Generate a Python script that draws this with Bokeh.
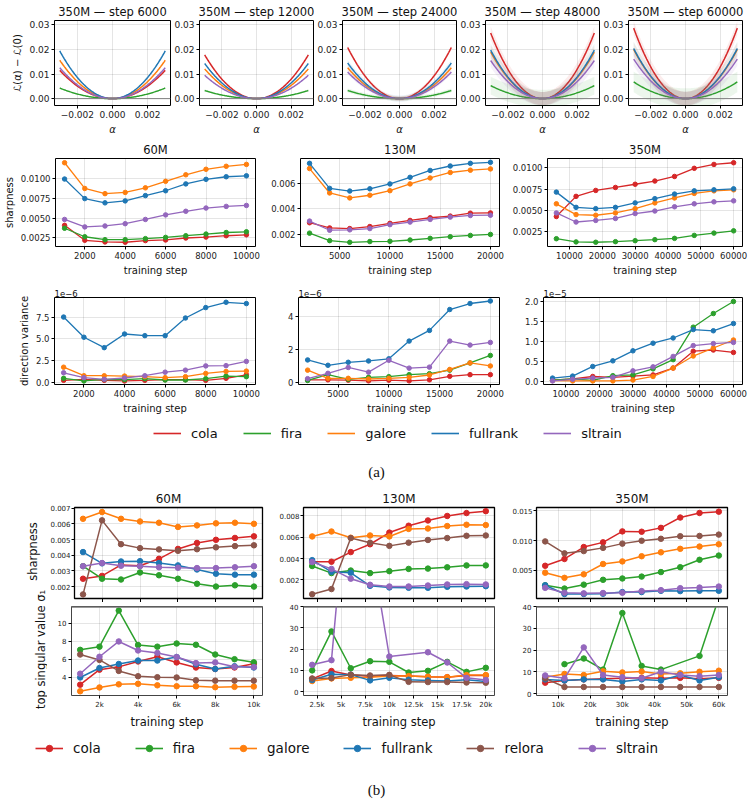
import numpy as np
from bokeh.plotting import figure
from bokeh.layouts import column, row
from bokeh.models import (Range1d, FixedTicker, CustomJSTickFormatter, PrintfTickFormatter,
                          Legend, LegendItem, Label, Span)
from bokeh.embed import file_html
from bokeh.resources import INLINE

SANS = "DejaVu Sans"
SERIF = "Liberation Serif"

COLORS = {
    "cola": "#d62728", "fira": "#2ca02c", "galore": "#ff7f0e",
    "fullrank": "#1f77b4", "relora": "#8c564b", "sltrain": "#9467bd",
}
methods_a = ["cola", "fira", "galore", "fullrank", "sltrain"]
methods_b = ["cola", "fira", "galore", "fullrank", "relora", "sltrain"]

# ---------------- (a) loss landscape slices, 350M ----------------
probe_steps = [6000, 12000, 24000, 48000, 60000]
alpha_edge = 0.003          # probe radius along the direction
# L(±alpha_edge) - L(0) for each method at each probe step
edge_cola = [0.0115, 0.0178, 0.0208, 0.0267, 0.0287]
edge_fira = [0.0043, 0.0033, 0.0033, 0.0053, 0.0068]
edge_galore = [0.0156, 0.0121, 0.0126, 0.0189, 0.0200]
edge_fullrank = [0.0194, 0.0143, 0.0145, 0.0197, 0.0204]
edge_sltrain = [0.0126, 0.0095, 0.0108, 0.0155, 0.0161]
# half-width of the spread band around each curve
band_cola = [0.0003, 0.0003, 0.0008, 0.0027, 0.0028]
band_fira = [0.0003, 0.0003, 0.0008, 0.0036, 0.0042]
band_galore = [0.0003, 0.0003, 0.0010, 0.0027, 0.0028]
band_fullrank = [0.0003, 0.0003, 0.0013, 0.0027, 0.0028]
band_sltrain = [0.0003, 0.0003, 0.0009, 0.0027, 0.0028]

# ---------------- (a) sharpness ----------------
steps_60m = [1000, 2000, 3000, 4000, 5000, 6000, 7000, 8000, 9000, 10000]
steps_130m = [2000, 4000, 6000, 8000, 10000, 12000, 14000, 16000, 18000, 20000]
steps_350m = [6000, 12000, 18000, 24000, 30000, 36000, 42000, 48000, 54000, 60000]

sharp_a_60m_cola = [0.00407, 0.00217, 0.00196, 0.00192, 0.00213, 0.00221, 0.00246, 0.00258, 0.00275, 0.00287]
sharp_a_60m_fira = [0.00370, 0.00262, 0.00225, 0.00225, 0.00238, 0.00254, 0.00275, 0.00296, 0.00316, 0.00325]
sharp_a_60m_galore = [0.01203, 0.00876, 0.00810, 0.00826, 0.00884, 0.00967, 0.01050, 0.01120, 0.01158, 0.01182]
sharp_a_60m_fullrank = [0.00996, 0.00747, 0.00693, 0.00718, 0.00785, 0.00847, 0.00934, 0.00992, 0.01025, 0.01037]
sharp_a_60m_sltrain = [0.00482, 0.00387, 0.00399, 0.00428, 0.00482, 0.00540, 0.00586, 0.00627, 0.00648, 0.00660]

sharp_a_130m_cola = [0.00292, 0.00251, 0.00246, 0.00262, 0.00287, 0.00310, 0.00331, 0.00344, 0.00367, 0.00369]
sharp_a_130m_fira = [0.00210, 0.00151, 0.00138, 0.00144, 0.00146, 0.00156, 0.00169, 0.00182, 0.00192, 0.00200]
sharp_a_130m_galore = [0.00718, 0.00526, 0.00487, 0.00508, 0.00544, 0.00597, 0.00644, 0.00687, 0.00705, 0.00715]
sharp_a_130m_fullrank = [0.00759, 0.00562, 0.00541, 0.00559, 0.00597, 0.00649, 0.00703, 0.00738, 0.00759, 0.00767]
sharp_a_130m_sltrain = [0.00305, 0.00233, 0.00236, 0.00246, 0.00277, 0.00297, 0.00318, 0.00336, 0.00349, 0.00351]

sharp_a_350m_cola = [0.00427, 0.00665, 0.00735, 0.00770, 0.00808, 0.00846, 0.00900, 0.00996, 0.01042, 0.01062]
sharp_a_350m_fira = [0.00165, 0.00127, 0.00123, 0.00130, 0.00142, 0.00154, 0.00169, 0.00204, 0.00231, 0.00258]
sharp_a_350m_galore = [0.00577, 0.00450, 0.00442, 0.00469, 0.00520, 0.00588, 0.00646, 0.00700, 0.00730, 0.00742]
sharp_a_350m_fullrank = [0.00715, 0.00535, 0.00520, 0.00535, 0.00588, 0.00638, 0.00692, 0.00730, 0.00742, 0.00754]
sharp_a_350m_sltrain = [0.00469, 0.00362, 0.00381, 0.00404, 0.00462, 0.00492, 0.00542, 0.00577, 0.00600, 0.00612]

# ---------------- (a) direction variance ----------------
# 60M and 130M in units of 1e-6, 350M in units of 1e-5
dvar_60m_cola = [0.22, 0.34, 0.22, 0.15, 0.22, 0.30, 0.30, 0.22, 0.45, 0.86]
dvar_60m_fira = [0.45, 0.15, 0.34, 0.30, 0.41, 0.26, 0.26, 0.41, 0.71, 0.64]
dvar_60m_galore = [1.73, 0.75, 0.75, 0.71, 0.64, 0.53, 0.64, 1.01, 1.24, 1.28]
dvar_60m_fullrank = [7.50, 5.18, 3.98, 5.55, 5.36, 5.36, 7.39, 8.59, 9.20, 9.05]
dvar_60m_sltrain = [1.09, 0.53, 0.34, 0.49, 0.75, 1.16, 1.39, 1.88, 1.91, 2.40]

dvar_130m_cola = [0.18, 0.18, 0.16, 0.12, 0.16, 0.12, 0.18, 0.39, 0.49, 0.49]
dvar_130m_fira = [0.14, 0.49, 0.21, 0.33, 0.37, 0.49, 0.55, 0.76, 1.19, 1.64]
dvar_130m_galore = [0.76, 0.27, 0.27, 0.23, 0.27, 0.33, 0.47, 0.80, 1.19, 1.01]
dvar_130m_fullrank = [1.37, 1.05, 1.23, 1.31, 1.44, 2.50, 3.14, 4.39, 4.75, 4.90]
dvar_130m_sltrain = [0.25, 0.57, 0.92, 0.64, 1.35, 0.88, 0.94, 2.50, 2.26, 2.42]

dvar_350m_cola = [0.04, 0.07, 0.13, 0.11, 0.14, 0.17, 0.34, 0.76, 0.79, 0.73]
dvar_350m_fira = [0.04, 0.07, 0.03, 0.15, 0.17, 0.32, 0.55, 1.36, 1.70, 2.00]
dvar_350m_galore = [0.03, 0.02, 0.02, 0.02, 0.04, 0.13, 0.34, 0.64, 0.84, 1.04]
dvar_350m_fullrank = [0.09, 0.14, 0.38, 0.52, 0.77, 0.96, 1.09, 1.30, 1.27, 1.45]
dvar_350m_sltrain = [0.02, 0.06, 0.09, 0.11, 0.27, 0.37, 0.63, 0.90, 0.95, 0.98]

# ---------------- (b) sharpness ----------------
sharp_b_60m_cola = [0.00250, 0.00268, 0.00338, 0.00333, 0.00377, 0.00440, 0.00478, 0.00498, 0.00510, 0.00520]
sharp_b_60m_fira = [0.00330, 0.00250, 0.00245, 0.00290, 0.00272, 0.00250, 0.00218, 0.00200, 0.00208, 0.00200]
sharp_b_60m_galore = [0.00632, 0.00675, 0.00632, 0.00615, 0.00607, 0.00580, 0.00590, 0.00603, 0.00607, 0.00600]
sharp_b_60m_fullrank = [0.00420, 0.00348, 0.00360, 0.00362, 0.00350, 0.00335, 0.00309, 0.00282, 0.00276, 0.00276]
sharp_b_60m_relora = [0.00150, 0.00622, 0.00470, 0.00445, 0.00437, 0.00428, 0.00438, 0.00450, 0.00458, 0.00463]
sharp_b_60m_sltrain = [0.00330, 0.00350, 0.00333, 0.00330, 0.00323, 0.00320, 0.00318, 0.00318, 0.00323, 0.00330]

sharp_b_130m_cola = [0.00370, 0.00370, 0.00460, 0.00533, 0.00642, 0.00706, 0.00755, 0.00797, 0.00824, 0.00842]
sharp_b_130m_fira = [0.00330, 0.00264, 0.00288, 0.00264, 0.00282, 0.00303, 0.00306, 0.00318, 0.00336, 0.00336]
sharp_b_130m_galore = [0.00606, 0.00652, 0.00594, 0.00615, 0.00606, 0.00676, 0.00680, 0.00703, 0.00715, 0.00712]
sharp_b_130m_fullrank = [0.00385, 0.00276, 0.00267, 0.00145, 0.00130, 0.00127, 0.00127, 0.00136, 0.00139, 0.00142]
sharp_b_130m_relora = [0.00067, 0.00115, 0.00591, 0.00548, 0.00518, 0.00548, 0.00573, 0.00591, 0.00612, 0.00615]
sharp_b_130m_sltrain = [0.00367, 0.00303, 0.00212, 0.00155, 0.00139, 0.00139, 0.00148, 0.00158, 0.00161, 0.00158]

sharp_b_350m_cola = [0.00578, 0.00692, 0.00892, 0.00970, 0.01154, 0.01148, 0.01213, 0.01386, 0.01462, 0.01484]
sharp_b_350m_fira = [0.00251, 0.00197, 0.00262, 0.00343, 0.00365, 0.00397, 0.00473, 0.00554, 0.00678, 0.00749]
sharp_b_350m_galore = [0.00462, 0.00376, 0.00435, 0.00608, 0.00651, 0.00738, 0.00803, 0.00862, 0.00900, 0.00938]
sharp_b_350m_fullrank = [0.00251, 0.00105, 0.00105, 0.00110, 0.00138, 0.00138, 0.00159, 0.00154, 0.00159, 0.00159]
sharp_b_350m_relora = [0.00986, 0.00786, 0.00824, 0.00878, 0.00949, 0.00997, 0.01030, 0.01073, 0.01078, 0.01100]
sharp_b_350m_sltrain = [0.00208, 0.00127, 0.00116, 0.00122, 0.00127, 0.00154, 0.00170, 0.00203, 0.00213, 0.00230]

# ---------------- (b) top singular value ----------------
sigma_60m_cola = [3.20, 4.87, 5.18, 5.78, 6.30, 5.67, 5.11, 4.94, 5.11, 5.53]
sigma_60m_fira = [7.07, 7.42, 11.43, 7.60, 7.42, 7.77, 7.63, 6.55, 6.03, 5.68]
sigma_60m_galore = [2.47, 2.89, 3.24, 3.30, 3.13, 3.03, 3.03, 2.92, 2.96, 2.99]
sigma_60m_fullrank = [4.00, 5.05, 5.50, 5.88, 5.88, 6.27, 5.46, 4.94, 5.25, 5.11]
sigma_60m_relora = [6.55, 5.95, 4.73, 4.14, 4.03, 4.00, 3.69, 3.65, 3.65, 3.65]
sigma_60m_sltrain = [4.42, 6.30, 8.00, 7.00, 6.72, 6.27, 5.60, 5.67, 5.18, 5.15]

sigma_130m_cola = [6.0, 9.7, 7.8, 7.2, 7.6, 7.4, 7.0, 6.8, 7.6, 7.6]
sigma_130m_fira = [10.0, 28.3, 11.0, 14.3, 14.0, 9.0, 9.8, 14.0, 9.3, 11.2]
sigma_130m_galore = [5.0, 6.2, 6.5, 6.8, 7.3, 7.3, 7.0, 6.8, 7.8, 7.8]
sigma_130m_fullrank = [5.5, 8.2, 8.0, 5.3, 6.5, 5.6, 5.3, 5.0, 5.6, 4.8]
sigma_130m_relora = [6.2, 6.4, 8.0, 7.6, 7.9, 4.6, 4.5, 4.5, 4.3, 4.2]
sigma_130m_sltrain_steps = [2000, 4000, 6000, 8000, 10000, 14000, 16000, 18000, 20000]
sigma_130m_sltrain = [12.6, 14.8, 115.0, 71.0, 16.5, 18.5, 13.7, 6.5, 5.5]

sigma_350m_cola = [5.0, 6.0, 6.5, 6.8, 7.0, 7.2, 7.0, 7.2, 6.8, 7.2]
sigma_350m_fira_steps = [12000, 18000, 24000, 30000, 36000, 42000, 54000, 60000]
sigma_350m_fira = [13.5, 16.1, 11.0, 37.0, 12.7, 11.0, 17.3, 44.0]
sigma_350m_galore = [7.5, 9.0, 8.5, 10.2, 9.7, 10.1, 9.0, 9.3, 10.0, 10.5]
sigma_350m_fullrank = [6.5, 6.0, 6.5, 6.5, 5.5, 6.5, 6.0, 8.5, 6.0, 7.5]
sigma_350m_relora = [7.0, 3.0, 3.0, 3.0, 3.0, 3.0, 3.0, 3.0, 3.0, 3.0]
sigma_350m_sltrain = [8.3, 7.0, 21.2, 8.5, 7.5, 7.0, 10.0, 8.5, 8.0, 8.5]


def make_fig(w, h, xr, yr, left, right, top, bottom, tick_px, label_px,
             title=None, title_px="11.5px", title_align="center", title_standoff=3):
    p = figure(width=w, height=h, x_range=Range1d(*xr), y_range=Range1d(*yr),
               output_backend="svg", toolbar_location=None,
               min_border_left=left, min_border_right=right,
               min_border_top=top, min_border_bottom=bottom)
    p.outline_line_color = "black"
    p.outline_line_width = 1
    p.border_fill_color = "white"
    p.background_fill_color = "white"
    for ax in p.axis:
        ax.axis_line_color = None
        ax.major_tick_in = 0
        ax.major_tick_out = 3
        ax.major_tick_line_color = "black"
        ax.minor_tick_line_color = None
        ax.major_label_standoff = 2
        ax.major_label_text_font = SANS
        ax.major_label_text_font_size = tick_px
        ax.major_label_text_color = "#222222"
        ax.axis_label_text_font = SANS
        ax.axis_label_text_font_size = label_px
        ax.axis_label_text_font_style = "normal"
        ax.axis_label_text_color = "#111111"
        ax.axis_label_standoff = 3
    p.grid.grid_line_color = "black"
    p.grid.grid_line_alpha = 0.1
    if title is not None:
        p.title.text = title
        p.title.text_font = SANS
        p.title.text_font_size = title_px
        p.title.text_font_style = "normal"
        p.title.text_color = "#111111"
        p.title.align = title_align
        p.title.standoff = title_standoff
    return p


def add_series(p, x, y, color, lw, size):
    p.line(x, y, line_color=color, line_width=lw)
    p.scatter(x, y, marker="circle", size=size, fill_color=color, line_color=color)


# ================= row 1: loss slices =================
edge_loss = dict(zip(methods_a, [edge_cola, edge_fira, edge_galore, edge_fullrank, edge_sltrain]))
band_half = dict(zip(methods_a, [band_cola, band_fira, band_galore, band_fullrank, band_sltrain]))
alpha = np.linspace(-alpha_edge, alpha_edge, 121)
minus_fmt = CustomJSTickFormatter(code="return tick.toFixed(3).replace('-', '\u2212');")

row1 = []
r1_widths = [171, 143, 143, 143, 152]
r1_left = [54, 26, 26, 26, 26]
r1_right = [1, 1, 1, 1, 10]
for i, step in enumerate(probe_steps):
    p = make_fig(r1_widths[i], 137, (-0.0033, 0.0033), (-0.0028, 0.0318),
                 r1_left[i], r1_right[i], 20, 29, "9px", "10px",
                 title=f"350M \u2014 step {step}", title_px="11.5px", title_standoff=4)
    p.xaxis.ticker = FixedTicker(ticks=[-0.002, 0.0, 0.002])
    p.xaxis.formatter = minus_fmt
    p.yaxis.ticker = FixedTicker(ticks=[0.0, 0.01, 0.02, 0.03])
    p.yaxis.formatter = PrintfTickFormatter(format="%.2f")
    p.xaxis.axis_label = "\u03b1"
    p.xaxis.axis_label_text_font_style = "italic"
    if i == 0:
        p.yaxis.axis_label = "\u2112(\u03b1) \u2212 \u2112(0)"
    p.add_layout(Span(location=0, dimension="width", line_color="#808080", line_width=1))
    for m in methods_a:
        curve = edge_loss[m][i] * (alpha / alpha_edge) ** 2
        hw = band_half[m][i]
        p.varea(x=alpha, y1=curve - hw, y2=curve + hw, fill_color=COLORS[m], fill_alpha=0.09)
        p.line(alpha, curve, line_color=COLORS[m], line_width=1.5)
    row1.append(p)

# ================= rows 2-3: sharpness / direction variance =================
panels_a = [
    ("60M", steps_60m, (550, 10450), [2000, 4000, 6000, 8000, 10000],
     [sharp_a_60m_cola, sharp_a_60m_fira, sharp_a_60m_galore, sharp_a_60m_fullrank, sharp_a_60m_sltrain],
     (0.00138, 0.01257), [0.0025, 0.005, 0.0075, 0.01], "%.4f",
     [dvar_60m_cola, dvar_60m_fira, dvar_60m_galore, dvar_60m_fullrank, dvar_60m_sltrain],
     (-0.26, 9.75), [0.0, 2.5, 5.0, 7.5], "%.1f", "1e\u22126"),
    ("130M", steps_130m, (1100, 20900), [5000, 10000, 15000, 20000],
     [sharp_a_130m_cola, sharp_a_130m_fira, sharp_a_130m_galore, sharp_a_130m_fullrank, sharp_a_130m_sltrain],
     (0.00105, 0.00797), [0.002, 0.004, 0.006], "%.3f",
     [dvar_130m_cola, dvar_130m_fira, dvar_130m_galore, dvar_130m_fullrank, dvar_130m_sltrain],
     (-0.1, 5.11), [0, 2, 4], "%.0f", "1e\u22126"),
    ("350M", steps_350m, (3300, 62700), [10000, 20000, 30000, 40000, 50000, 60000],
     [sharp_a_350m_cola, sharp_a_350m_fira, sharp_a_350m_galore, sharp_a_350m_fullrank, sharp_a_350m_sltrain],
     (0.00073, 0.01112), [0.0025, 0.005, 0.0075, 0.01], "%.4f",
     [dvar_350m_cola, dvar_350m_fira, dvar_350m_galore, dvar_350m_fullrank, dvar_350m_sltrain],
     (-0.07, 2.1), [0.0, 0.5, 1.0, 1.5, 2.0], "%.1f", "1e\u22125"),
]
ra_widths = [268, 241, 243]
ra_left = [54, 30, 34]
ra_right = [13, 10, 10]

row2, row3 = [], []
for j, (name, steps, xr, xt, sharp, sy, syt, sfmt, dvar, dy, dyt, dfmt, mult) in enumerate(panels_a):
    p = make_fig(ra_widths[j], 141, xr, sy, ra_left[j], ra_right[j], 21, 30, "8.5px", "10px",
                 title=name, title_px="11.5px", title_standoff=3)
    p.xaxis.ticker = FixedTicker(ticks=xt)
    p.yaxis.ticker = FixedTicker(ticks=syt)
    p.yaxis.formatter = PrintfTickFormatter(format=sfmt)
    p.xaxis.axis_label = "training step"
    if j == 0:
        p.yaxis.axis_label = "sharpness"
    for m, ys in zip(methods_a, sharp):
        add_series(p, steps, ys, COLORS[m], 1.3, 4.5)
    row2.append(p)

    q = make_fig(ra_widths[j], 138, xr, dy, ra_left[j], ra_right[j], 19, 30, "8.5px", "10px",
                 title=mult, title_px="8.5px", title_align="left", title_standoff=1)
    q.xaxis.ticker = FixedTicker(ticks=xt)
    q.yaxis.ticker = FixedTicker(ticks=dyt)
    q.yaxis.formatter = PrintfTickFormatter(format=dfmt)
    q.xaxis.axis_label = "training step"
    if j == 0:
        q.yaxis.axis_label = "direction variance"
    for m, ys in zip(methods_a, dvar):
        add_series(q, steps, ys, COLORS[m], 1.3, 4.5)
    row3.append(q)


def legend_fig(height, names, markers, x0, y0, spacing, font_px, caption, cap_y):
    p = figure(width=752, height=height, x_range=Range1d(0, 1), y_range=Range1d(0, 1),
               output_backend="svg", toolbar_location=None, min_border=0)
    p.axis.visible = False
    p.grid.visible = False
    p.outline_line_color = None
    items = []
    for m in names:
        # parked outside the visible range: only the legend swatch is seen
        rs = [p.line([-5, -4], [-5, -5], line_color=COLORS[m], line_width=1.6)]
        if markers:
            rs.append(p.scatter([-5], [-5], marker="circle", size=6,
                                fill_color=COLORS[m], line_color=COLORS[m]))
        items.append(LegendItem(label=m, renderers=rs))
    leg = Legend(items=items, orientation="horizontal", location=(x0, y0),
                 glyph_width=28, glyph_height=16, label_standoff=10, spacing=spacing,
                 padding=0, margin=0, border_line_alpha=0, background_fill_alpha=0,
                 label_text_font=SANS, label_text_font_size=font_px, label_text_color="#111111")
    p.add_layout(leg, "center")
    p.add_layout(Label(x=376, y=cap_y, x_units="screen", y_units="screen", text=caption,
                       text_align="center", text_baseline="middle",
                       text_font=SERIF, text_font_size="15px", text_color="#111111"))
    return p


legend_a = legend_fig(72, methods_a, False, 153, 47, 25, "13px", "(a)", 17)

# ================= rows 4-5: (b) sharpness / top singular value =================
k_fmt = CustomJSTickFormatter(code="return (tick / 1000) + 'k';")
blank_fmt = CustomJSTickFormatter(code="return '';")

panels_b = [
    ("60M", (550, 10450), [2000, 4000, 6000, 8000, 10000],
     [sharp_b_60m_cola, sharp_b_60m_fira, sharp_b_60m_galore, sharp_b_60m_fullrank, sharp_b_60m_relora, sharp_b_60m_sltrain],
     (0.00124, 0.00704), [0.002, 0.003, 0.004, 0.005, 0.006, 0.007],
     [(steps_60m, sigma_60m_cola), (steps_60m, sigma_60m_fira), (steps_60m, sigma_60m_galore),
      (steps_60m, sigma_60m_fullrank), (steps_60m, sigma_60m_relora), (steps_60m, sigma_60m_sltrain)],
     (2.0, 11.88), [4, 6, 8, 10], steps_60m),
    ("130M", (1100, 20900), [2500, 5000, 7500, 10000, 12500, 15000, 17500, 20000],
     [sharp_b_130m_cola, sharp_b_130m_fira, sharp_b_130m_galore, sharp_b_130m_fullrank, sharp_b_130m_relora, sharp_b_130m_sltrain],
     (0.00027, 0.00876), [0.002, 0.004, 0.006, 0.008],
     [(steps_130m, sigma_130m_cola), (steps_130m, sigma_130m_fira), (steps_130m, sigma_130m_galore),
      (steps_130m, sigma_130m_fullrank), (steps_130m, sigma_130m_relora),
      (sigma_130m_sltrain_steps, sigma_130m_sltrain)],
     (-1.8, 40), [0, 10, 20, 30, 40], steps_130m),
    ("350M", (3300, 62700), [10000, 20000, 30000, 40000, 50000, 60000],
     [sharp_b_350m_cola, sharp_b_350m_fira, sharp_b_350m_galore, sharp_b_350m_fullrank, sharp_b_350m_relora, sharp_b_350m_sltrain],
     (0.0003, 0.01554), [0.005, 0.010, 0.015],
     [(steps_350m, sigma_350m_cola), (sigma_350m_fira_steps, sigma_350m_fira), (steps_350m, sigma_350m_galore),
      (steps_350m, sigma_350m_fullrank), (steps_350m, sigma_350m_relora), (steps_350m, sigma_350m_sltrain)],
     (-0.9, 40), [0, 10, 20, 30, 40], steps_350m),
]
LABEL_COL = 47
rb_widths = [272 - LABEL_COL, 232, 248]
rb_left = [71 - LABEL_COL, 31, 32]
rb_right = [10, 10, 25]

row4, row5 = [], []
for j, (name, xr, xt, sharp, sy, syt, sig, gy, gyt, steps) in enumerate(panels_b):
    p = make_fig(rb_widths[j], 114, xr, sy, rb_left[j], rb_right[j], 16, 4, "7px", "11.5px",
                 title=name, title_px="12px", title_standoff=3)
    p.outline_line_width = 1.3
    p.xaxis.ticker = FixedTicker(ticks=xt)
    p.xaxis.formatter = blank_fmt
    p.xaxis.major_label_standoff = 0
    p.xaxis.major_label_text_font_size = "1px"
    p.xaxis.major_tick_out = 4
    p.yaxis.ticker = FixedTicker(ticks=syt)
    p.yaxis.formatter = PrintfTickFormatter(format="%.3f")
    p.yaxis.major_label_standoff = 1
    for m, ys in zip(methods_b, sharp):
        add_series(p, steps, ys, COLORS[m], 1.5, 5.5)
    row4.append(p)

    q = make_fig(rb_widths[j], 129, xr, gy, rb_left[j], rb_right[j], 4, 31, "7px", "11.5px")
    q.outline_line_color = "#444444"
    q.xaxis.ticker = FixedTicker(ticks=xt)
    q.xaxis.formatter = k_fmt
    q.yaxis.ticker = FixedTicker(ticks=gyt)
    q.yaxis.formatter = PrintfTickFormatter(format="%.0f")
    q.xaxis.axis_label = "training step"
    q.add_layout(Span(location=gy[1], dimension="width", line_color="#777777", line_width=2.5))
    for m, (xs, ys) in zip(methods_b, sig):
        add_series(q, xs, ys, COLORS[m], 1.5, 5.5)
    row5.append(q)

# shared strip holding the two y-axis titles of (b); the lower one is taller than its panel
label_strip = figure(width=LABEL_COL, height=243, x_range=Range1d(0, 1), y_range=Range1d(0, 1),
                     output_backend="svg", toolbar_location=None, min_border=0)
label_strip.axis.visible = False
label_strip.grid.visible = False
label_strip.outline_line_color = None
for txt, lx, ly in [("sharpness", 32, 180), ("top singular value \u03c3\u2081", 40, 82)]:
    label_strip.add_layout(Label(x=lx, y=ly, x_units="screen", y_units="screen", text=txt,
                                 angle=90, angle_units="deg", text_align="center",
                                 text_baseline="middle", text_font=SANS,
                                 text_font_size="11.5px", text_color="#111111"))

legend_b = legend_fig(69, methods_b, True, 35, 44, 34, "13.5px", "(b)", 11)

section_b = row(label_strip, column(row(*row4), row(*row5)))
layout = column(row(*row1), row(*row2), row(*row3), legend_a, section_b, legend_b)

with open("out.html", "w") as f:
    f.write(file_html(layout, INLINE, title="Sharpness and loss landscape"))
